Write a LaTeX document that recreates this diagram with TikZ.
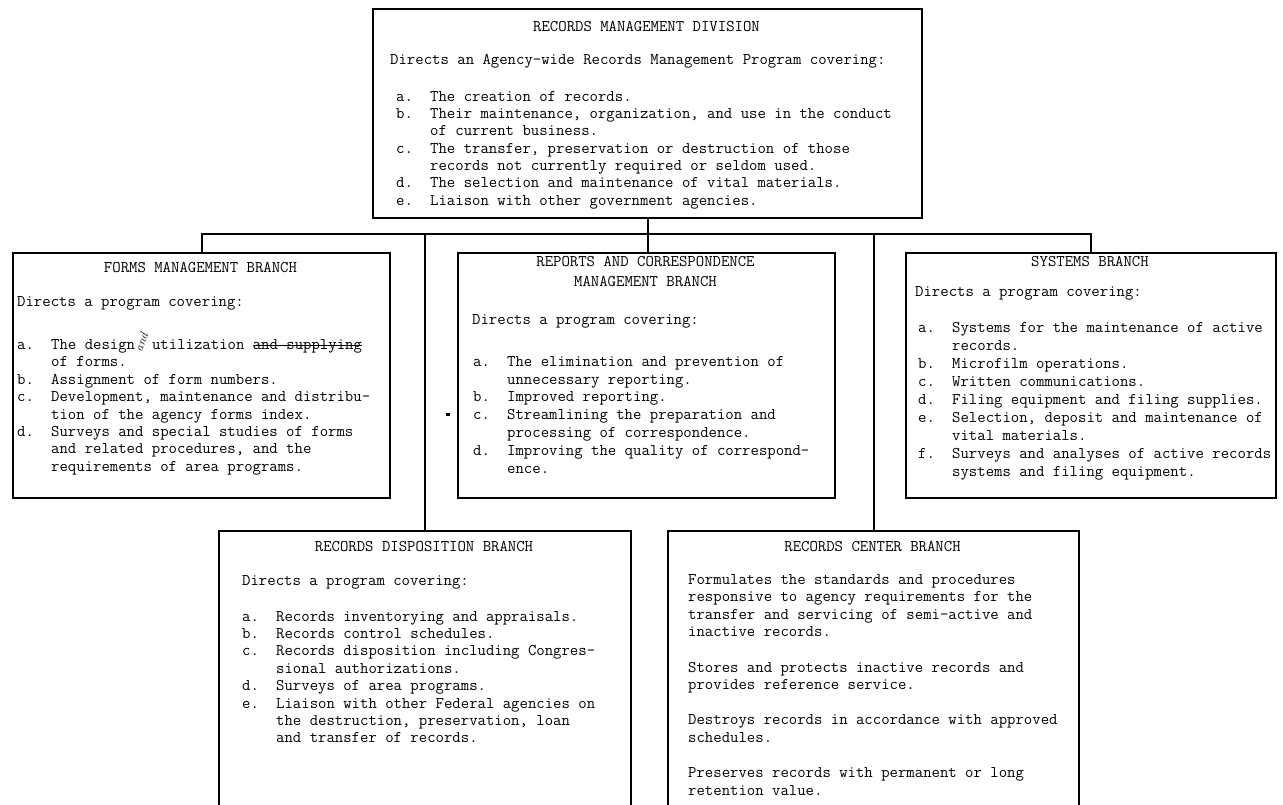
\documentclass[tikz,border=0pt]{standalone}
\usepackage{fontspec}
\newcommand{\itemlab}[1]{\makebox[34pt][l]{#1}}
\newcommand{\contind}{\hspace*{34pt}}
\newcommand{\strk}[1]{\setbox0\hbox{#1}\rlap{\rule[3.5pt]{\wd0}{1.3pt}}\box0}
\begin{document}
\begin{tikzpicture}[x=1pt,y=-1pt,
  box/.style={draw, line width=2pt, inner sep=0, anchor=north west},
  conn/.style={line width=2pt},
  ttl/.style={inner sep=0, anchor=north, align=center, font=\ttfamily\fontsize{16.3}{20}\selectfont},
  txt/.style={inner sep=0, anchor=north west, align=left, font=\ttfamily\fontsize{16.3}{#1}\selectfont},
  txt/.default=17.6]
\useasboundingbox (0,0) rectangle (1283,804);
\clip (0,0) rectangle (1283,804);
% boxes
\node[box, minimum width=549pt, minimum height=209pt] (rmd) at (372,8) {};
\node[box, minimum width=377pt, minimum height=245pt] (forms) at (12,252) {};
\node[box, minimum width=377pt, minimum height=245pt] (reports) at (457,252) {};
\node[box, minimum width=370pt, minimum height=245pt] (systems) at (905,252) {};
\node[box, minimum width=412pt, minimum height=300pt] (disp) at (218,530) {};
\node[box, minimum width=411pt, minimum height=300pt] (rcb) at (667,530) {};
% connectors
\coordinate (bus) at (647,234);
\draw[conn] (rmd.south) -- (rmd.south |- reports.north);
\draw[conn] (forms.north) |- (bus) -| (systems.north);
\draw[conn] (disp.north) -- (disp.north |- bus);
\draw[conn] (rcb.north) -- (rcb.north |- bus);
% top box
\node[ttl] (t1) at (646.5,21) {RECORDS MANAGEMENT DIVISION};
\node[txt] (i1) at (390,54) {Directs an Agency-wide Records Management Program covering:};
\node[txt=17.3] (l1) at (396,91) {\itemlab{a.}The creation of records.\\
\itemlab{b.}Their maintenance, organization, and use in the conduct\\
\contind of current business.\\
\itemlab{c.}The transfer, preservation or destruction of those\\
\contind records not currently required or seldom used.\\
\itemlab{d.}The selection and maintenance of vital materials.\\
\itemlab{e.}Liaison with other government agencies.};
% forms
\node[ttl] (t2) at (200.5,262) {FORMS MANAGEMENT BRANCH};
\node[txt] (i2) at (17,296) {Directs a program covering:};
\node[txt=17.4] (l2) at (17,332) {\itemlab{a.}The design\makebox[8.56pt][l]{\hspace*{-1pt}\raisebox{-3pt}{\rotatebox{70}{\rmfamily\itshape\fontsize{12}{12}\selectfont and}}} utilization \strk{and supplying}\\
\contind of forms.\\
\itemlab{b.}Assignment of form numbers.\\
\itemlab{c.}Development, maintenance and distribu-\\
\contind tion of the agency forms index.\\
\itemlab{d.}Surveys and special studies of forms\\
\contind and related procedures, and the\\
\contind requirements of area programs.};
% reports
\node[ttl] (t3) at (645.5,256) {REPORTS AND CORRESPONDENCE\\MANAGEMENT BRANCH};
\node[txt] (i3) at (472,314) {Directs a program covering:};
\node[txt=17.8] (l3) at (473,356) {\itemlab{a.}The elimination and prevention of\\
\contind unnecessary reporting.\\
\itemlab{b.}Improved reporting.\\
\itemlab{c.}Streamlining the preparation and\\
\contind processing of correspondence.\\
\itemlab{d.}Improving the quality of correspond-\\
\contind ence.};
\fill (446,413) rectangle (450,416);
% systems
\node[ttl] (t4) at (1090,256) {SYSTEMS BRANCH};
\node[txt] (i4) at (915,286) {Directs a program covering:};
\node[txt=18] (l4) at (918,322) {\itemlab{a.}Systems for the maintenance of active\\
\contind records.\\
\itemlab{b.}Microfilm operations.\\
\itemlab{c.}Written communications.\\
\itemlab{d.}Filing equipment and filing supplies.\\
\itemlab{e.}Selection, deposit and maintenance of\\
\contind vital materials.\\
\itemlab{f.}Surveys and analyses of active records\\
\contind systems and filing equipment.};
% disposition
\node[ttl] (t5) at (424,541) {RECORDS DISPOSITION BRANCH};
\node[txt] (i5) at (242,575) {Directs a program covering:};
\node[txt=17.4] (l5) at (242,611) {\itemlab{a.}Records inventorying and appraisals.\\
\itemlab{b.}Records control schedules.\\
\itemlab{c.}Records disposition including Congres-\\
\contind sional authorizations.\\
\itemlab{d.}Surveys of area programs.\\
\itemlab{e.}Liaison with other Federal agencies on\\
\contind the destruction, preservation, loan\\
\contind and transfer of records.};
% records center
\node[ttl] (t6) at (872.5,541) {RECORDS CENTER BRANCH};
\node[txt=17.6] (l6) at (688,574) {Formulates the standards and procedures\\
responsive to agency requirements for the\\
transfer and servicing of semi-active and\\
inactive records.\\[17.6pt]
Stores and protects inactive records and\\
provides reference service.\\[17.6pt]
Destroys records in accordance with approved\\
schedules.\\[17.6pt]
Preserves records with permanent or long\\
retention value.};
\end{tikzpicture}
\end{document}
